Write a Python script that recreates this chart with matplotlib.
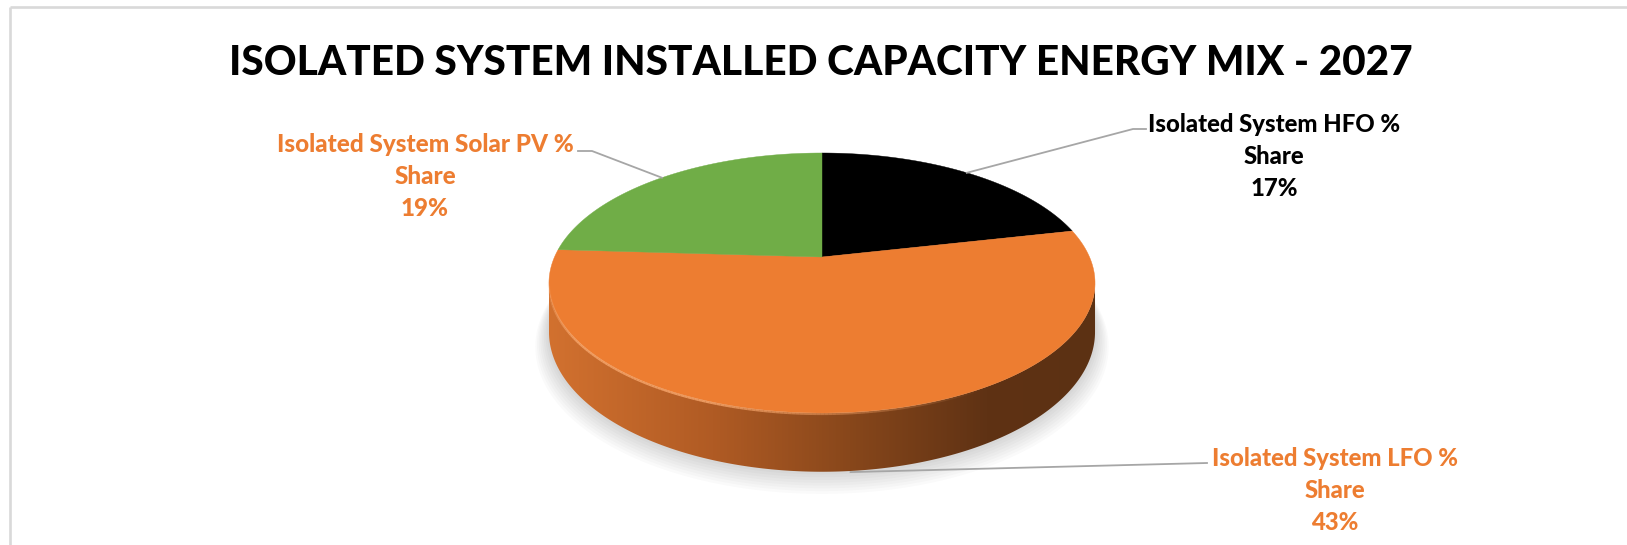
import numpy as np
import matplotlib
matplotlib.use("Agg")
import matplotlib.pyplot as plt
from matplotlib.patches import Polygon
from matplotlib.collections import LineCollection
from matplotlib.colors import to_rgb

# ---------------- data ----------------
title = "ISOLATED SYSTEM INSTALLED CAPACITY ENERGY MIX - 2027"
categories = ["Isolated System HFO %", "Isolated System LFO %", "Isolated System Solar PV %"]
category_suffix = ["Share", "Share", "Share"]
values = [17, 43, 19]
value_labels = ["17%", "43%", "19%"]
slice_colors = ["#000000", "#ED7D31", "#70AD47"]
label_colors = ["#000000", "#ED7D31", "#ED7D31"]

# ---------------- figure ----------------
W, H = 1627, 545
fig = plt.figure(figsize=(W / 100, H / 100), dpi=100)
ax = fig.add_axes([0, 0, 1, 1])
ax.set_xlim(0, W)
ax.set_ylim(H, 0)
ax.axis("off")
FONT = "Lato"
WEIGHT = 900

# chart border (top and left visible)
ax.plot([10, W + 5], [7, 7], color="#D9D9D9", lw=1.9, solid_capstyle="butt", zorder=1)
ax.plot([10, 10], [7, H + 5], color="#D9D9D9", lw=1.9, solid_capstyle="butt", zorder=1)

# ---------------- 3D pie geometry (perspective projection) ----------------
CX, S, VY, PY, K, DEPTH = 822.0, 267.5, 257.0, 73.4, 0.2, 47.0


def proj(theta_deg, z=0.0, r=1.0):
    t = np.radians(np.asarray(theta_deg, dtype=float))
    u = r * np.cos(t)
    v = -r * np.sin(t)
    den = 1 - K * v
    return CX + S * u / den, (PY * v + VY + z * DEPTH) / den


vals = np.array(values, dtype=float)
fracs = vals / vals.sum()
starts = 90 - 360 * np.concatenate([[0], np.cumsum(fracs)[:-1]])
ends = starts - 360 * fracs
mids = (starts + ends) / 2

# soft shadow under the pie
th_all = np.linspace(0, 360, 361)
for i in range(8):
    grow = 1 + 0.006 * (i + 1)
    sx, sy = proj(th_all, z=1.0, r=grow)
    sy = sy + 1.5 * (i + 1)
    ax.add_patch(Polygon(np.c_[sx, sy], closed=True, facecolor="#000000",
                         edgecolor="none", alpha=0.018, zorder=2))

# side wall (front half) with horizontal gradient
ext = np.degrees(np.arcsin(K))
th_side = np.linspace(180 + ext, 360 - ext, 300)
tx, ty = proj(th_side, 0)
bx, by = proj(th_side[::-1], 1)
side_pts = np.r_[np.c_[tx, ty], np.c_[bx, by]]
side_patch = Polygon(side_pts, closed=True, facecolor="none", edgecolor="none", zorder=3)
ax.add_patch(side_patch)

stops = [(0.0, "#D2712F"), (0.3, "#B05B24"), (0.55, "#88471B"), (0.8, "#5F3214"), (1.0, "#5C3113")]
N = 400
xs = np.linspace(0, 1, N)
grad = np.zeros((1, N, 3))
for c in range(3):
    grad[0, :, c] = np.interp(xs, [s[0] for s in stops], [to_rgb(s[1])[c] for s in stops])
x0, x1 = side_pts[:, 0].min(), side_pts[:, 0].max()
y0, y1 = side_pts[:, 1].min(), side_pts[:, 1].max()
im = ax.imshow(grad, extent=[x0, x1, y1, y0], aspect="auto", zorder=3, interpolation="bilinear")
im.set_clip_path(side_patch)
ax.set_xlim(0, W)
ax.set_ylim(H, 0)

# top face slices
for s0, s1, col in zip(starts, ends, slice_colors):
    th = np.linspace(s0, s1, 200)
    px, py = proj(th, 0)
    pts = np.r_[[[CX, VY]], np.c_[px, py]]
    ax.add_patch(Polygon(pts, closed=True, facecolor=col, edgecolor=col, lw=0.3, zorder=4))

# bevel highlight on front edge (fading at both ends)
th_h = np.linspace(188, 300, 160)
hx, hy = proj(th_h, 0)
hy = hy + 1.0
segs = np.stack([np.c_[hx[:-1], hy[:-1]], np.c_[hx[1:], hy[1:]]], axis=1)
tpos = np.linspace(0, 1, len(segs))
alph = np.clip(np.minimum(tpos / 0.25, (1 - tpos) / 0.45), 0, 1) * 0.8
hl = np.array(to_rgb("#F8A86E"))
seg_cols = np.c_[np.tile(hl, (len(segs), 1)), alph]
ax.add_collection(LineCollection(segs, colors=seg_cols, linewidths=1.6, zorder=5))

# ---------------- leader lines ----------------
LEAD = "#A6A6A6"
ax_, ay_ = proj(mids[0], 0)
ax.plot([ax_, 1133, 1146], [ay_, 129, 129], color=LEAD, lw=1.3, zorder=6)
sx_, sy_ = proj(mids[2], 0)
ax.plot([sx_, 592, 578], [sy_, 151, 151], color=LEAD, lw=1.3, zorder=6)
lx_, ly_ = proj(mids[1], 1)
ax.plot([lx_ + 2, 1207], [ly_ + 1, 463], color=LEAD, lw=1.3, zorder=6)

# ---------------- text ----------------
renderer = fig.canvas.get_renderer()


def fitted_text(x, y, s, target_w, color, base_size):
    t = ax.text(x, y, s, ha="center", va="baseline", fontsize=base_size,
                fontweight=WEIGHT, color=color, family=FONT, zorder=7)
    w = t.get_window_extent(renderer).width
    size = base_size * target_w / w
    t.set_fontsize(size)
    return size


fitted_text(821, 75, title, 1181, "#000000", 30)

label_layout = {0: (1274, 131.5, 252), 1: (1335, 465.5, 246), 2: (425, 152.5, 297)}
for i in range(3):
    cx, by0, wline = label_layout[i]
    size = fitted_text(cx, by0, categories[i], wline, label_colors[i], 18)
    for j, s in enumerate([category_suffix[i], value_labels[i]]):
        ax.text(cx, by0 + 32 * (j + 1), s, ha="center", va="baseline", fontsize=size,
                fontweight=WEIGHT, color=label_colors[i], family=FONT, zorder=7)

fig.savefig("out.png", dpi=100, facecolor="white")
